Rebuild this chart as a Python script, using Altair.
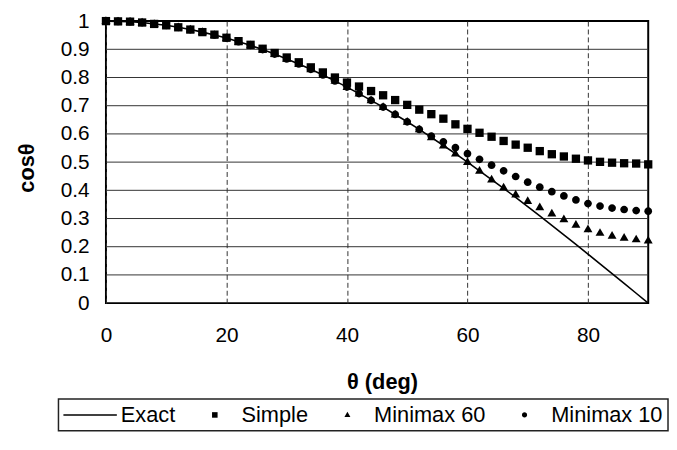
import altair as alt
import pandas as pd

# ---- data ----
theta = [0, 2, 4, 6, 8, 10, 12, 14, 16, 18, 20, 22, 24, 26, 28, 30, 32, 34, 36, 38,
         40, 42, 44, 46, 48, 50, 52, 54, 56, 58, 60, 62, 64, 66, 68, 70, 72, 74, 76, 78,
         80, 82, 84, 86, 88, 90]

exact = [1.000, 0.999, 0.998, 0.995, 0.990, 0.985, 0.978, 0.970, 0.961, 0.951,
         0.940, 0.927, 0.914, 0.899, 0.883, 0.866, 0.848, 0.829, 0.809, 0.788,
         0.766, 0.743, 0.719, 0.695, 0.669, 0.643, 0.616, 0.588, 0.559, 0.530,
         0.500, 0.469, 0.438, 0.407, 0.375, 0.342, 0.309, 0.276, 0.242, 0.208,
         0.174, 0.139, 0.105, 0.070, 0.035, 0.000]

simple = [1.000, 0.999, 0.998, 0.995, 0.990, 0.985, 0.978, 0.970, 0.961, 0.952,
          0.941, 0.929, 0.916, 0.902, 0.887, 0.871, 0.854, 0.836, 0.818, 0.800,
          0.782, 0.768, 0.752, 0.737, 0.720, 0.703, 0.686, 0.670, 0.654, 0.634,
          0.618, 0.604, 0.590, 0.575, 0.562, 0.551, 0.539, 0.528, 0.520, 0.512,
          0.506, 0.501, 0.498, 0.496, 0.495, 0.492]

minimax60 = [1.000, 0.999, 0.998, 0.995, 0.990, 0.985, 0.978, 0.970, 0.961, 0.951,
             0.940, 0.927, 0.914, 0.899, 0.883, 0.866, 0.848, 0.829, 0.809, 0.788,
             0.766, 0.743, 0.719, 0.695, 0.669, 0.643, 0.616, 0.588, 0.559, 0.530,
             0.500, 0.469, 0.438, 0.410, 0.385, 0.362, 0.340, 0.318, 0.297, 0.278,
             0.262, 0.249, 0.239, 0.232, 0.226, 0.222]

minimax10 = [1.000, 0.999, 0.998, 0.995, 0.990, 0.985, 0.978, 0.970, 0.961, 0.951,
             0.940, 0.927, 0.914, 0.899, 0.883, 0.866, 0.848, 0.829, 0.809, 0.788,
             0.766, 0.743, 0.719, 0.695, 0.669, 0.643, 0.616, 0.592, 0.572, 0.551,
             0.530, 0.510, 0.489, 0.469, 0.449, 0.429, 0.411, 0.395, 0.380, 0.366,
             0.353, 0.344, 0.337, 0.332, 0.328, 0.326]

series_names = ["Exact", "Simple", "Minimax 60", "Minimax 10"]
x_ticks = [0, 20, 40, 60, 80]
y_ticks = [0, 0.1, 0.2, 0.3, 0.4, 0.5, 0.6, 0.7, 0.8, 0.9, 1.0]
y_grid = [0.1, 0.2, 0.3, 0.4, 0.5, 0.6, 0.7, 0.8, 0.9]

# symbol shapes (unit paths): line, square, triangle, circle
shape_paths = [
    "M-3.1,-0.075H2.3V0.075H-3.1Z",
    "M-0.28,-0.28H0.28V0.28H-0.28Z",
    "M0,-0.32L0.3,0.2L-0.3,0.2Z",
    "M0.26,0A0.26,0.26 0 1,1 -0.26,0A0.26,0.26 0 1,1 0.26,0Z",
]

df_line = pd.DataFrame({"theta": theta, "value": exact, "series": "Exact"})
rows = []
for name, vals in [("Simple", simple), ("Minimax 60", minimax60), ("Minimax 10", minimax10)]:
    for t, v in zip(theta, vals):
        rows.append({"theta": t, "value": v, "series": name})
df_pts = pd.DataFrame(rows)
df_grid = pd.DataFrame({"value": y_grid})

FONT = "Liberation Sans"

x_scale = alt.Scale(domain=[0, 90], nice=False, zero=True)
y_scale = alt.Scale(domain=[0, 1], nice=False)

x_enc = alt.X(
    "theta:Q",
    scale=x_scale,
    axis=alt.Axis(values=x_ticks, title="θ (deg)", grid=True, gridDash=[5, 3],
                  gridColor="#333333", gridWidth=1, labelPadding=33, labelBaseline="middle",
                  labelFlush=False, labelOverlap=False,
                  titleX=279, titleY=79, titleBaseline="middle",
                  ticks=False, tickSize=0, domain=False),
)
y_enc = alt.Y(
    "value:Q",
    scale=y_scale,
    axis=alt.Axis(values=y_ticks, format=".1~f", title="cosθ", grid=False,
                  labelPadding=17, labelOverlap=False, labelFlush=False,
                  titleAngle=270, titleX=-80, titleY=148, titleAlign="center",
                  titleBaseline="middle", ticks=False, tickSize=0, domain=False),
)

hgrid = alt.Chart(df_grid).mark_rule(color="#333333", strokeWidth=1).encode(y=y_enc)

line = alt.Chart(df_line).mark_line(color="black", strokeWidth=1.6).encode(x=x_enc, y=y_enc)

pts = alt.Chart(df_pts).mark_point(filled=True, color="black", opacity=1, size=900).encode(
    x=x_enc,
    y=y_enc,
    shape=alt.Shape(
        "series:N",
        scale=alt.Scale(domain=series_names, range=shape_paths),
        legend=alt.Legend(title=None, orient="none", direction="horizontal",
                          legendX=-48, legendY=382),
    ),
)

chart = (
    alt.layer(hgrid, line, pts)
    .properties(
        width=548,
        height=285,
        padding={"left": 99, "top": 11, "right": 21, "bottom": 128},
        autosize=alt.AutoSizeParams(type="none"),
        background="white",
    )
    .configure_view(stroke="black", strokeWidth=2)
    .configure_axis(
        labelFont=FONT, labelFontSize=21, labelColor="black",
        titleFont=FONT, titleFontSize=22, titleFontWeight="bold", titleColor="black",
    )
    .configure_legend(
        labelFont=FONT, labelFontSize=22, labelColor="black", labelLimit=400,
        labelOffset=16, symbolOffset=20, symbolSize=400, symbolStrokeWidth=0,
        symbolFillColor="black", symbolOpacity=1,
        columnPadding=8, padding=5, strokeColor="#222222", strokeWidth=1.5,
    )
)

chart.save("out.html", embed_options={"renderer": "svg", "actions": False})
